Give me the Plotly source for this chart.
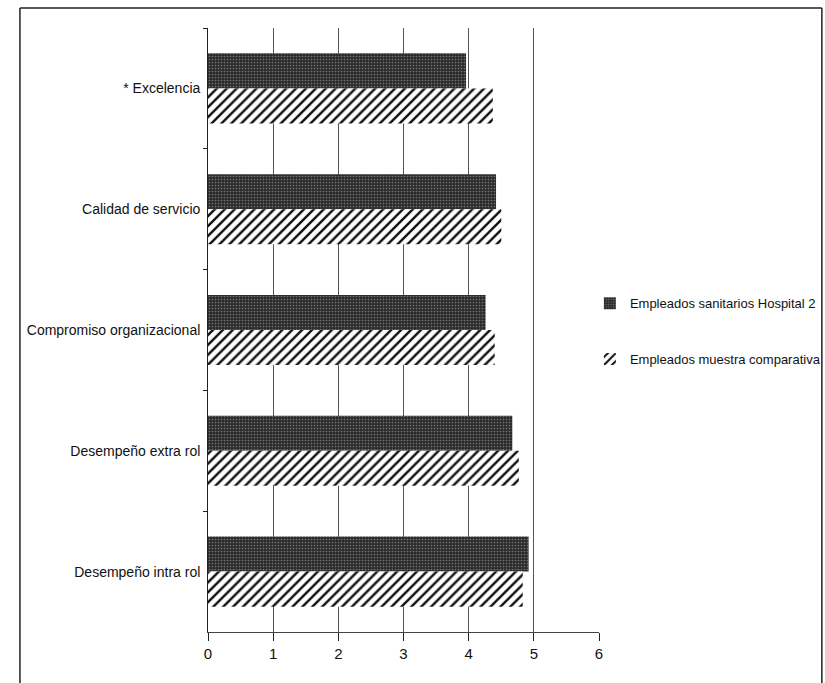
import plotly.graph_objects as go

# Categories, top to bottom
categories = [
    "* Excelencia",
    "Calidad de servicio",
    "Compromiso organizacional",
    "Desempeño extra rol",
    "Desempeño intra rol",
]
hospital2 = [3.96, 4.42, 4.26, 4.67, 4.92]
comparativa = [4.37, 4.50, 4.40, 4.77, 4.83]
series_names = ["Empleados sanitarios Hospital 2", "Empleados muestra comparativa"]
x_ticks = [0, 1, 2, 3, 4, 5, 6]

FONT = "Liberation Sans, Arial, sans-serif"

fig = go.Figure()
fig.add_trace(go.Bar(
    y=categories, x=hospital2, orientation="h", name=series_names[0],
    marker=dict(
        color="#2b2b2b",
        line=dict(width=0),
        pattern=dict(shape=".", fgcolor="#bdbdbd", bgcolor="#2b2b2b",
                     size=3, solidity=0.25, fillmode="overlay"),
    ),
    legendgroup="a", legendrank=1,
))
fig.add_trace(go.Bar(
    y=categories, x=comparativa, orientation="h", name=series_names[1],
    marker=dict(
        color="white",
        line=dict(width=0),
        pattern=dict(shape="/", fgcolor="#111111", bgcolor="white",
                     size=7, solidity=0.35, fillmode="replace"),
    ),
    legendgroup="b", legendrank=2,
))

# Outer frame around the chart (open at the bottom)
frame = dict(type="line", xref="paper", yref="paper",
             line=dict(color="#222222", width=1.5))
fig.add_shape(**frame, x0=-0.481, x1=-0.481, y0=1.033, y1=-0.09)
fig.add_shape(**frame, x0=-0.481, x1=1.570, y0=1.033, y1=1.033)
fig.add_shape(**frame, x0=1.570, x1=1.570, y0=1.033, y1=-0.09)

fig.update_layout(
    width=825, height=683,
    margin=dict(l=208, r=226, t=28, b=51, autoexpand=False),
    paper_bgcolor="white", plot_bgcolor="white",
    barmode="group", bargap=0.42, bargroupgap=0,
    font=dict(family=FONT, size=14, color="#111111"),
    legend=dict(
        xref="container", yref="container",
        x=0.715, xanchor="left", y=0.515, yanchor="middle",
        tracegroupgap=36, font=dict(size=13, family=FONT),
        itemwidth=30, bgcolor="rgba(0,0,0,0)",
    ),
    xaxis=dict(
        range=[0, 6], tickvals=x_ticks, ticktext=[str(v) for v in x_ticks],
        showgrid=True, gridcolor="#555555", gridwidth=1,
        showline=True, linecolor="#444444", linewidth=1,
        ticks="outside", ticklen=8, tickcolor="#222222",
        tickfont=dict(size=15, family=FONT), zeroline=False,
    ),
    yaxis=dict(
        autorange="reversed", showgrid=False,
        showline=True, linecolor="#222222", linewidth=1,
        ticks="outside", tickson="boundaries", ticklen=4, tickcolor="#222222",
        tickfont=dict(size=14, family=FONT), ticksuffix=" ",
    ),
)

fig.write_html("out.html")
